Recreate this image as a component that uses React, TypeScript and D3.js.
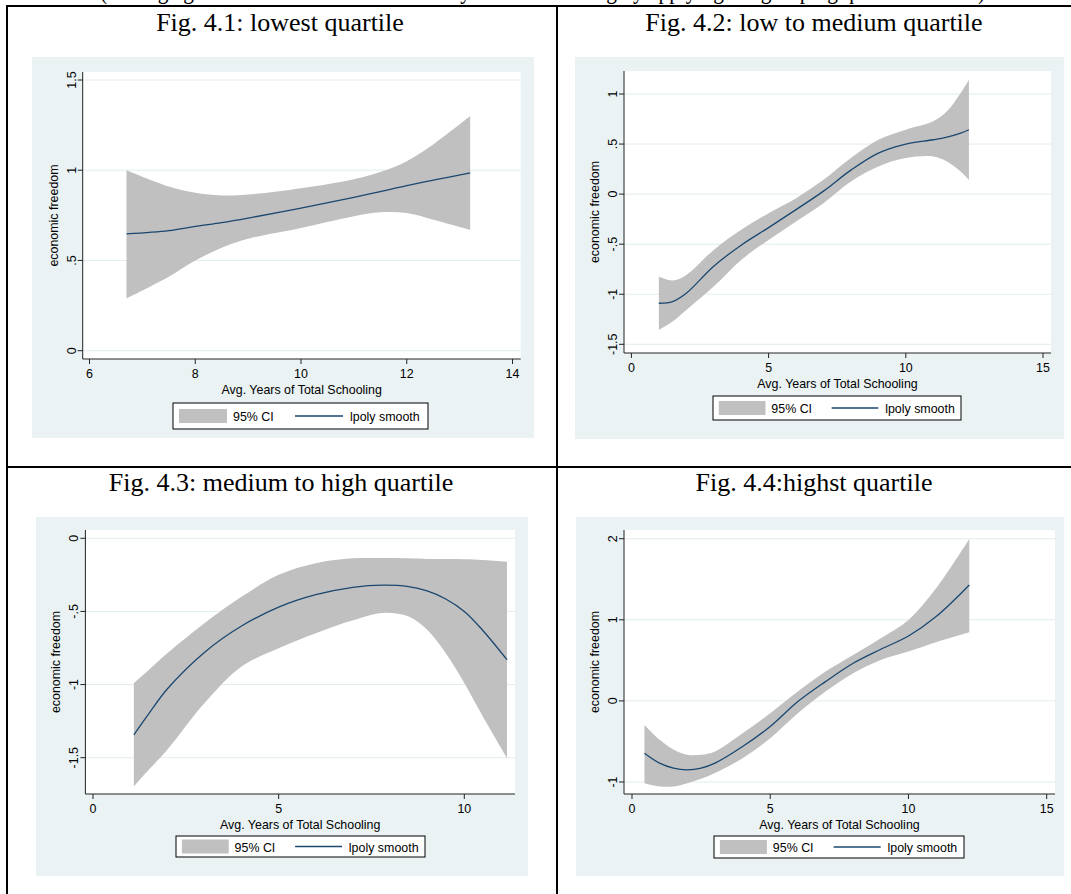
import React from "react";
import * as d3 from "d3";

// ---------- data ----------
const titles = [
  "Fig. 4.1: lowest quartile",
  "Fig. 4.2: low to medium quartile",
  "Fig. 4.3: medium to high quartile",
  "Fig. 4.4:highst quartile",
];
const headerText =
  "(Average grade of economic freedom and years of schooling by applying the grouping quartile method)";
const xTitle = "Avg. Years of Total Schooling";
const yTitle = "economic freedom";
const legendLabels = ["95% CI", "lpoly smooth"];

// Panel 1: lowest quartile
const p1X = [6.7, 7.5, 8, 8.5, 9, 10, 11, 11.5, 12, 12.5, 13.2];
const p1Fit = [0.647, 0.665, 0.689, 0.71, 0.735, 0.79, 0.85, 0.882, 0.915, 0.945, 0.985];
const p1Hi = [1.0, 0.91, 0.875, 0.86, 0.865, 0.9, 0.95, 0.99, 1.05, 1.143, 1.3];
const p1Lo = [0.29, 0.41, 0.5, 0.57, 0.62, 0.68, 0.745, 0.767, 0.763, 0.726, 0.67];
const p1XTicks = [6, 8, 10, 12, 14];
const p1YTicks = [0, 0.5, 1, 1.5];

// Panel 2: low to medium quartile
const p2X = [1, 1.5, 2, 3, 4, 5, 6, 7, 8, 9, 10, 11, 11.5, 12, 12.3];
const p2Fit = [-1.09, -1.073, -0.99, -0.72, -0.51, -0.335, -0.155, 0.03, 0.24, 0.41, 0.5, 0.543, 0.57, 0.61, 0.643];
const p2Hi = [-0.823, -0.863, -0.807, -0.557, -0.357, -0.19, -0.04, 0.143, 0.36, 0.543, 0.643, 0.727, 0.827, 1.01, 1.143];
const p2Lo = [-1.357, -1.273, -1.157, -0.923, -0.657, -0.457, -0.273, -0.09, 0.127, 0.277, 0.36, 0.377, 0.327, 0.227, 0.143];
const p2XTicks = [0, 5, 10, 15];
const p2YTicks = [-1.5, -1, -0.5, 0, 0.5, 1];

// Panel 3: medium to high quartile
const p3X = [1.1, 1.5, 2, 3, 4, 5, 6, 7, 7.8, 8.5, 9, 9.5, 10, 10.5, 11.15];
const p3Fit = [-1.344, -1.2, -1.03, -0.78, -0.6, -0.47, -0.385, -0.335, -0.32, -0.33, -0.36, -0.415, -0.5, -0.63, -0.83];
const p3Hi = [-0.99, -0.9, -0.786, -0.58, -0.4, -0.25, -0.17, -0.137, -0.135, -0.137, -0.141, -0.142, -0.143, -0.148, -0.16];
const p3Lo = [-1.697, -1.583, -1.446, -1.128, -0.877, -0.752, -0.649, -0.56, -0.51, -0.535, -0.626, -0.786, -0.99, -1.219, -1.503];
const p3XTicks = [0, 5, 10];
const p3YTicks = [-1.5, -1, -0.5, 0];

// Panel 4: highest quartile
const p4X = [0.45, 1, 1.5, 2, 2.5, 3, 4, 5, 6, 7, 8, 9, 10, 11, 12.2];
const p4Fit = [-0.645, -0.768, -0.83, -0.85, -0.83, -0.768, -0.563, -0.316, -0.008, 0.238, 0.464, 0.637, 0.8, 1.04, 1.43];
const p4Hi = [-0.296, -0.48, -0.6, -0.665, -0.665, -0.624, -0.4, -0.152, 0.115, 0.361, 0.567, 0.772, 0.998, 1.388, 1.996];
const p4Lo = [-1.014, -1.055, -1.055, -1.014, -0.96, -0.89, -0.706, -0.46, -0.152, 0.115, 0.341, 0.505, 0.608, 0.723, 0.846];
const p4XTicks = [0, 5, 10, 15];
const p4YTicks = [-1, 0, 1, 2];

// ---------- layout ----------
type Layout = {
  cellCx: number;
  titleY: number;
  bg: [number, number, number, number];
  plot: [number, number, number, number];
  xMap: [number, number, number, number];
  yMap: [number, number, number, number];
  legend: [number, number, number, number];
};

const layouts: Layout[] = [
  { cellCx: 280, titleY: 31, bg: [32, 57, 534, 438], plot: [82.7, 72, 520.7, 359], xMap: [6, 89.5, 14, 512.5], yMap: [0, 350.7, 1.5, 80], legend: [173, 403, 428, 429] },
  { cellCx: 814, titleY: 31, bg: [575, 57, 1064, 439], plot: [624, 71, 1051, 353], xMap: [0, 631.4, 15, 1043], yMap: [-1.5, 344.3, 1, 94], legend: [713, 396, 961, 420] },
  { cellCx: 281, titleY: 491, bg: [36, 517, 528, 876], plot: [85.4, 530, 515, 794], xMap: [0, 93, 10, 464.3], yMap: [-1.5, 757.7, 0, 538.3], legend: [176, 836, 425, 857] },
  { cellCx: 814, titleY: 491, bg: [576, 517, 1064, 876], plot: [624, 530, 1055, 794], xMap: [0, 632, 15, 1046.7], yMap: [-1, 782, 2, 538.7], legend: [714, 836, 964, 858] },
];

const series = [
  { x: p1X, fit: p1Fit, hi: p1Hi, lo: p1Lo, xt: p1XTicks, yt: p1YTicks },
  { x: p2X, fit: p2Fit, hi: p2Hi, lo: p2Lo, xt: p2XTicks, yt: p2YTicks },
  { x: p3X, fit: p3Fit, hi: p3Hi, lo: p3Lo, xt: p3XTicks, yt: p3YTicks },
  { x: p4X, fit: p4Fit, hi: p4Hi, lo: p4Lo, xt: p4XTicks, yt: p4YTicks },
];

const SANS = "'Liberation Sans', Arial, Helvetica, sans-serif";
const SERIF = "'Liberation Serif', 'Times New Roman', serif";
const BG = "#eaf2f3";
const GRID = "#e2ecef";
const CI = "#c0c0c0";
const LINE = "#1a476f";
const FS = 13.5;
const SX = 0.92;

const fmt = (v: number) => {
  if (v === 0) return "0";
  const s = String(v);
  return s.replace(/^0\./, ".").replace(/^-0\./, "-.");
};

function SText({ x, y, rot = 0, anchor = "start", children }: { x: number; y: number; rot?: number; anchor?: string; children: React.ReactNode }) {
  return (
    <text
      transform={`translate(${x},${y})${rot ? ` rotate(${rot})` : ""} scale(${SX},1)`}
      textAnchor={anchor}
      fontFamily={SANS}
      fontSize={FS}
      fill="#000"
    >
      {children}
    </text>
  );
}

function Panel({ i }: { i: number }) {
  const L = layouts[i];
  const S = series[i];
  const xs = d3.scaleLinear().domain([L.xMap[0], L.xMap[2]]).range([L.xMap[1], L.xMap[3]]);
  const ys = d3.scaleLinear().domain([L.yMap[0], L.yMap[2]]).range([L.yMap[1], L.yMap[3]]);
  const idx = d3.range(S.x.length);
  const area = d3
    .area<number>()
    .x((k) => xs(S.x[k]))
    .y0((k) => ys(S.lo[k]))
    .y1((k) => ys(S.hi[k]))
    .curve(d3.curveCatmullRom.alpha(0.5));
  const line = d3
    .line<number>()
    .x((k) => xs(S.x[k]))
    .y((k) => ys(S.fit[k]))
    .curve(d3.curveCatmullRom.alpha(0.5));
  const [px0, py0, px1, py1] = L.plot;
  const [lx0, ly0, lx1, ly1] = L.legend;
  const lw = lx1 - lx0;
  const lcy = (ly0 + ly1) / 2;
  const f = (o: number) => lx0 + (o / 255) * lw;
  const plotCy = (py0 + py1) / 2;
  const plotCx = (px0 + px1) / 2;
  return (
    <g>
      <text x={L.cellCx} y={L.titleY} textAnchor="middle" fontFamily={SERIF} fontSize={26} fill="#000">
        {titles[i]}
      </text>
      <rect x={L.bg[0]} y={L.bg[1]} width={L.bg[2] - L.bg[0]} height={L.bg[3] - L.bg[1]} fill={BG} />
      <rect x={px0} y={py0} width={px1 - px0} height={py1 - py0} fill="#fff" />
      {S.yt.map((t) => (
        <line key={"g" + t} x1={px0} x2={px1} y1={ys(t)} y2={ys(t)} stroke={GRID} strokeWidth={1} />
      ))}
      <path d={area(idx) || ""} fill={CI} stroke="none" />
      <path d={line(idx) || ""} fill="none" stroke={LINE} strokeWidth={1.3} />
      <line x1={px0} x2={px0} y1={py0} y2={py1} stroke="#222" strokeWidth={1} />
      <line x1={px0} x2={px1} y1={py1} y2={py1} stroke="#222" strokeWidth={1} />
      {S.yt.map((t) => (
        <g key={"y" + t}>
          <line x1={px0 - 5} x2={px0} y1={ys(t)} y2={ys(t)} stroke="#222" strokeWidth={1} />
          <SText x={px0 - 7} y={ys(t)} rot={-90} anchor="middle">
            {fmt(t)}
          </SText>
        </g>
      ))}
      {S.xt.map((t) => (
        <g key={"x" + t}>
          <line x1={xs(t)} x2={xs(t)} y1={py1} y2={py1 + 5} stroke="#222" strokeWidth={1} />
          <SText x={xs(t)} y={py1 + 18.5} anchor="middle">
            {fmt(t)}
          </SText>
        </g>
      ))}
      <SText x={plotCx} y={py1 + 34.5} anchor="middle">
        {xTitle}
      </SText>
      <SText x={px0 - 25} y={plotCy} rot={-90} anchor="middle">
        {yTitle}
      </SText>
      <rect x={lx0} y={ly0} width={lw} height={ly1 - ly0} fill="#fff" stroke="#000" strokeWidth={1} />
      <rect x={f(6)} y={lcy - 7} width={f(54) - f(6)} height={14} fill={CI} />
      <SText x={f(60)} y={lcy + 5}>{legendLabels[0]}</SText>
      <line x1={f(122)} x2={f(170)} y1={lcy} y2={lcy} stroke={LINE} strokeWidth={1.3} />
      <SText x={f(177)} y={lcy + 5}>{legendLabels[1]}</SText>
    </g>
  );
}

export default function App() {
  return (
    <svg
      width={1071}
      height={894}
      viewBox="0 0 1071 894"
      style={{ position: "absolute", left: 0, top: 0, background: "#fff" }}
    >
      <rect x={0} y={0} width={1071} height={894} fill="#fff" />
      <text x={100} y={-1} fontFamily={SERIF} fontSize={25} textLength={885} lengthAdjust="spacingAndGlyphs" fill="#000">
        {headerText}
      </text>
      {[0, 1, 2, 3].map((i) => (
        <Panel key={i} i={i} />
      ))}
      <line x1={6} x2={1071} y1={6} y2={6} stroke="#000" strokeWidth={2} />
      <line x1={7} x2={7} y1={5} y2={894} stroke="#000" strokeWidth={2} />
      <line x1={557} x2={557} y1={5} y2={894} stroke="#000" strokeWidth={2} />
      <line x1={6} x2={1071} y1={467} y2={467} stroke="#000" strokeWidth={2} />
    </svg>
  );
}
